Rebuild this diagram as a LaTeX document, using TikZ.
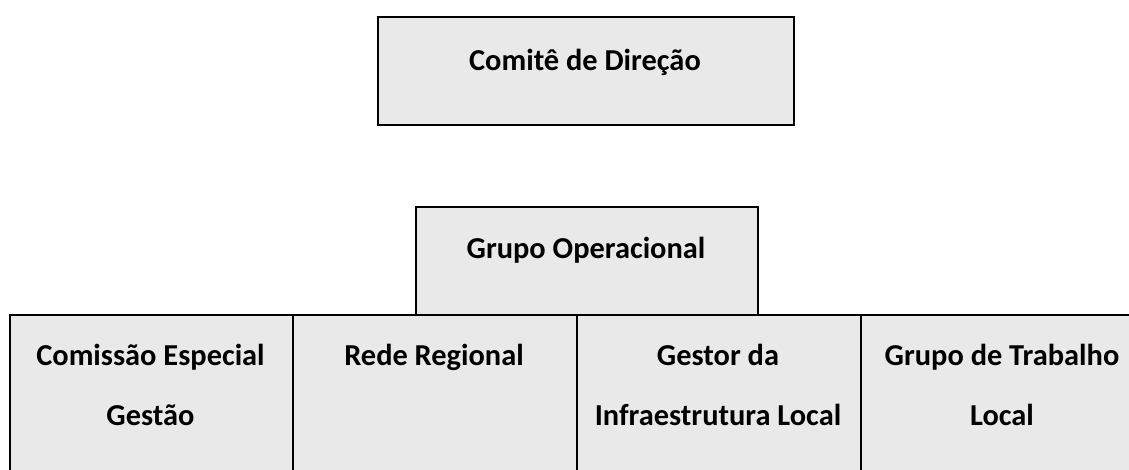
\documentclass[tikz,border=0pt]{standalone}
\usepackage{fontspec}
\setmainfont{Carlito}
\begin{document}
\begin{tikzpicture}[x=1pt,y=-1pt,
  boxstyle/.style={draw=black, line width=2pt, fill=boxgray, rectangle, inner sep=0pt},
  lbl/.style={font=\bfseries\fontsize{30.4}{36}\selectfont, anchor=base, inner sep=0pt, text=black}]
\definecolor{boxgray}{HTML}{E9E9E9}
\useasboundingbox (0,0) rectangle (1129,469);
\clip (0,0) rectangle (1129,469);
\node[boxstyle, minimum width=416pt, minimum height=108pt, anchor=north west] (cd) at (377,16) {};
\node[boxstyle, minimum width=342pt, minimum height=108pt, anchor=north west] (go) at (415,206) {};
\node[boxstyle, minimum width=283pt, minimum height=170pt, anchor=north west] (b1) at (9,314) {};
\node[boxstyle, minimum width=284pt, minimum height=170pt, anchor=north west] (b2) at (292,314) {};
\node[boxstyle, minimum width=284pt, minimum height=170pt, anchor=north west] (b3) at (576,314) {};
\node[boxstyle, minimum width=284pt, minimum height=170pt, anchor=north west] (b4) at (860,314) {};
\node[lbl] (tcd) at (585,70.5) {Comitê de Direção};
\node[lbl] (tgo) at (586,258) {Grupo Operacional};
\node[lbl] (t1a) at (150.5,365) {Comissão Especial};
\node[lbl] (t1b) at (150.5,425) {Gestão};
\node[lbl] (t2a) at (434,365) {Rede Regional};
\node[lbl] (t3a) at (718,365) {Gestor da};
\node[lbl] (t3b) at (718,425) {Infraestrutura Local};
\node[lbl] (t4a) at (1002,365) {Grupo de Trabalho};
\node[lbl] (t4b) at (1002,425) {Local};
\end{tikzpicture}
\end{document}
